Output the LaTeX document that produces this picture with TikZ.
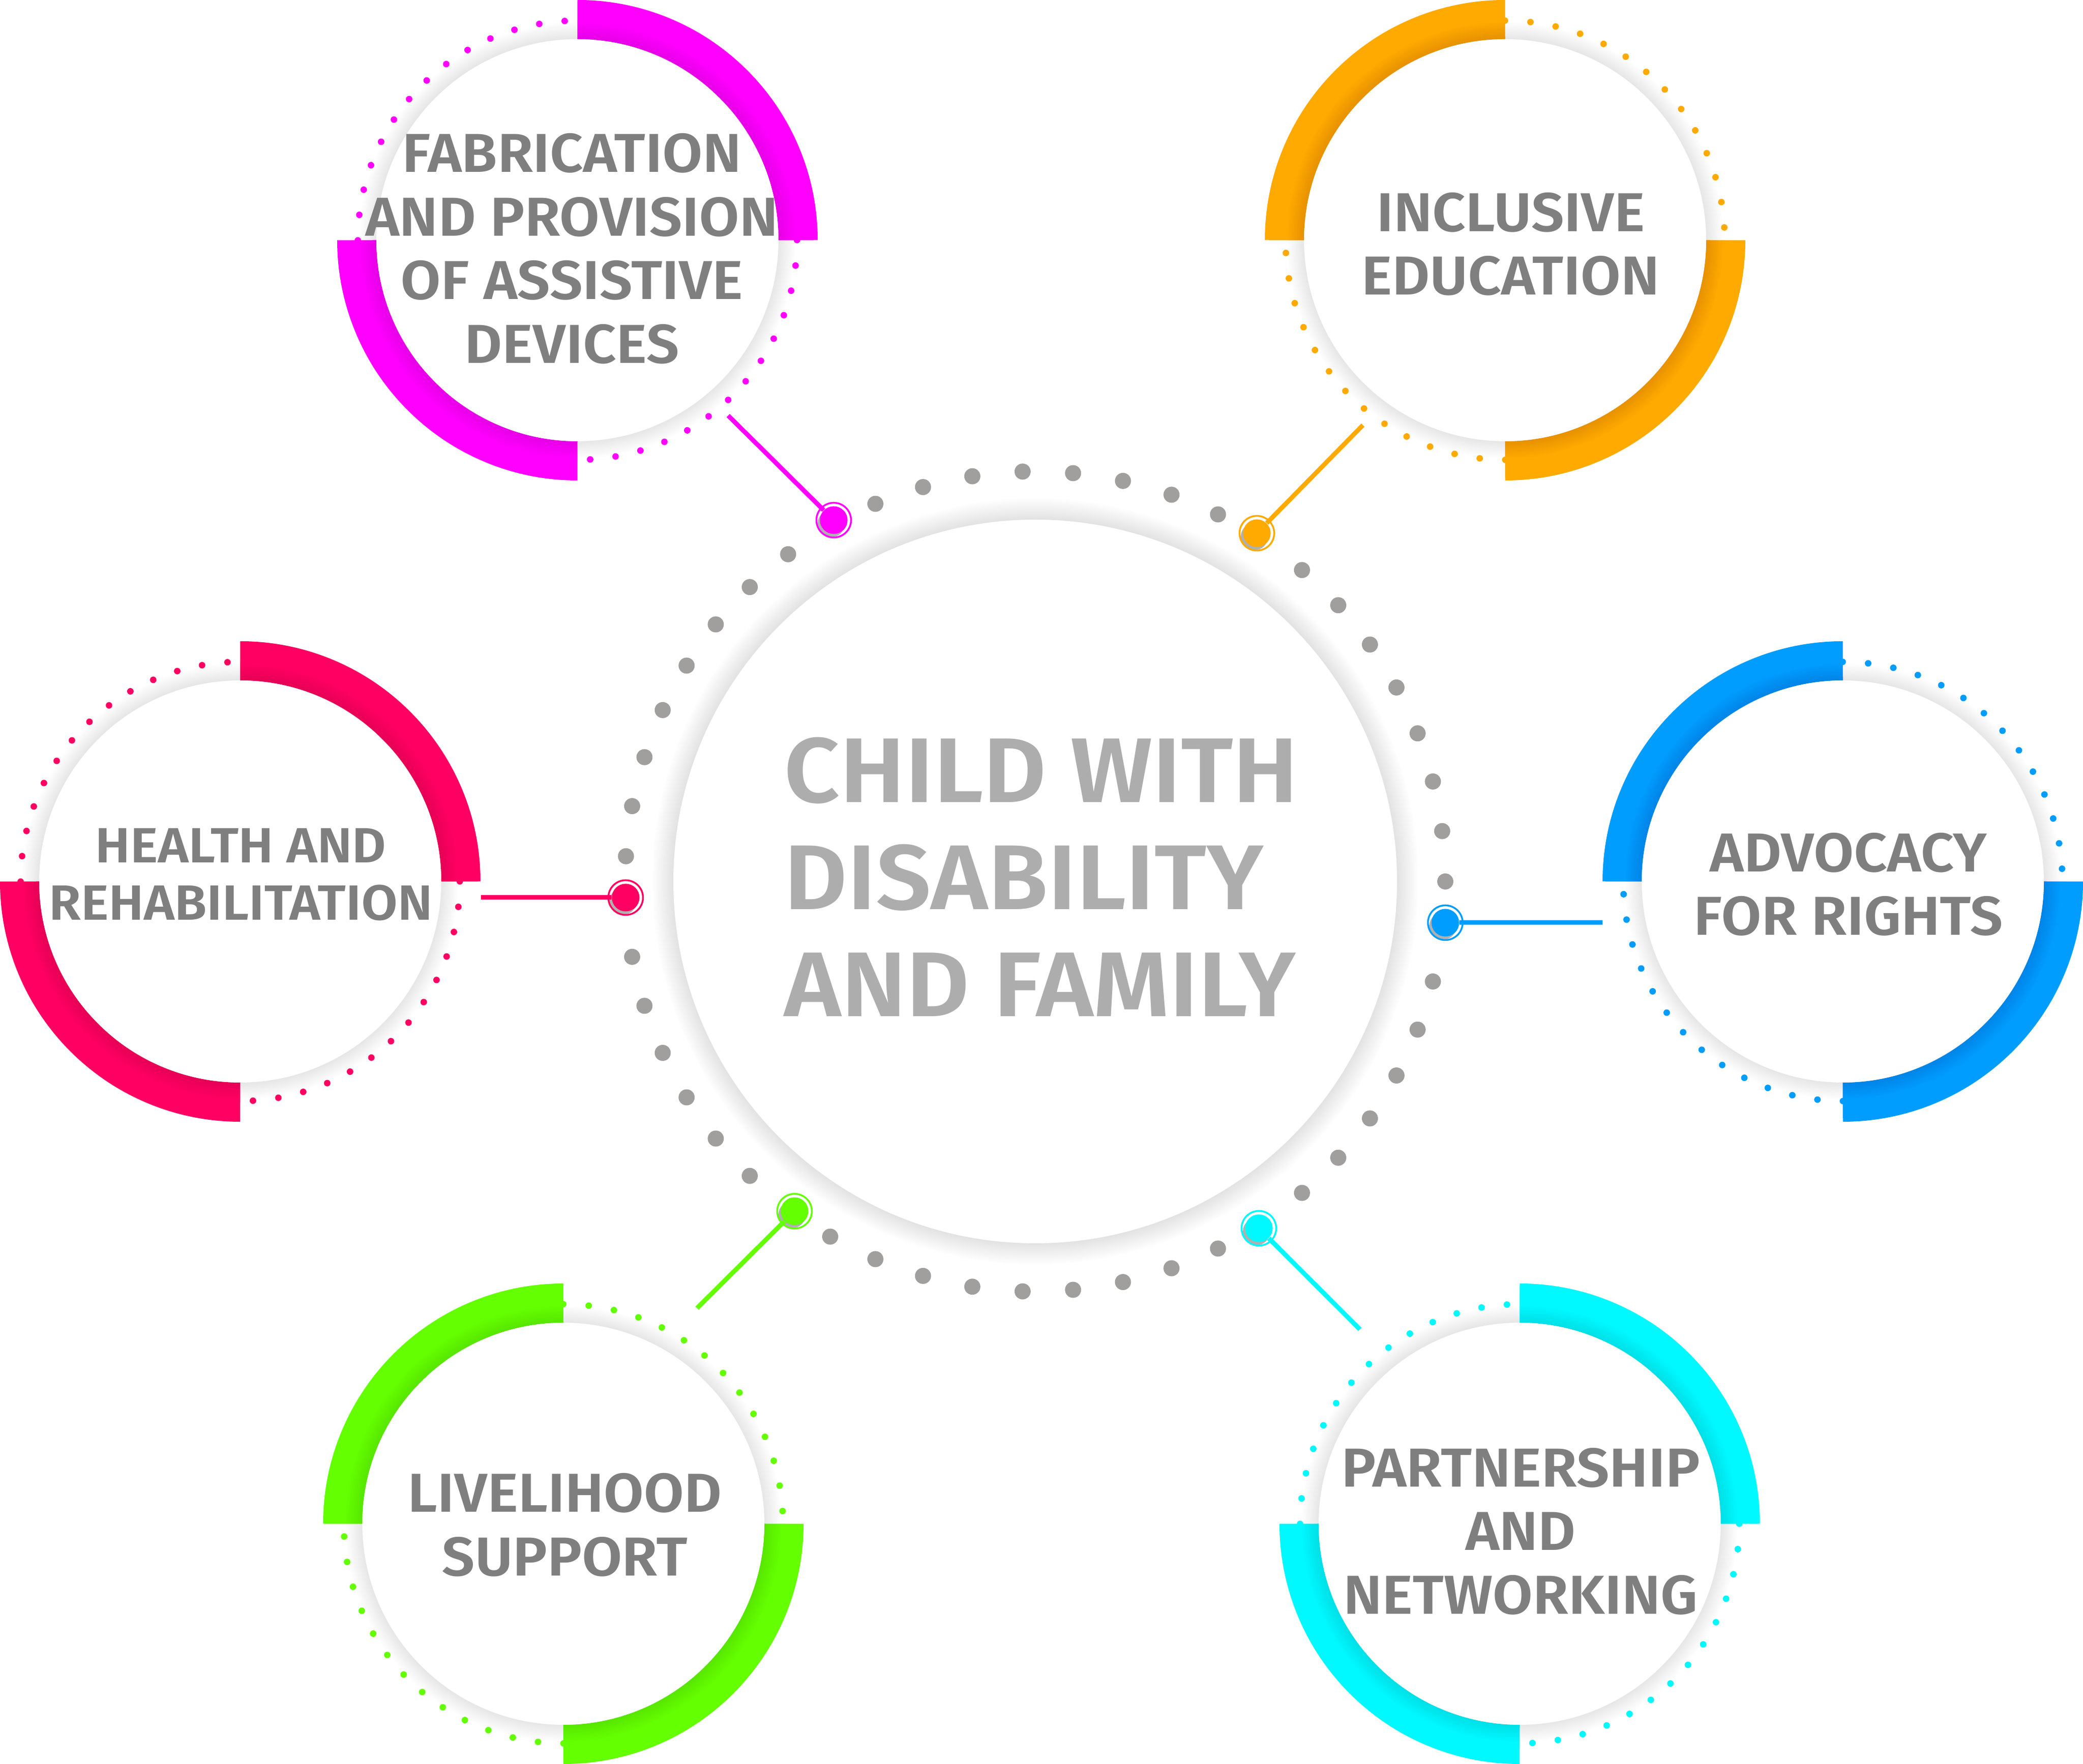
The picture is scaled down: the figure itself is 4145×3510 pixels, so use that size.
\documentclass[tikz,border=0pt]{standalone}
\usepackage{fontspec}
\setmainfont{Fira Sans}[BoldFont={Fira Sans SemiBold}, FakeStretch=1.06]
\definecolor{cMag}{HTML}{FF00FF}
\definecolor{cOra}{HTML}{FFAA00}
\definecolor{cRed}{HTML}{FF0062}
\definecolor{cBlu}{HTML}{009DFF}
\definecolor{cGre}{HTML}{64FF00}
\definecolor{cCya}{HTML}{00F8FF}
\definecolor{dotgray}{HTML}{A19E9E}
\definecolor{ctrtext}{HTML}{ADADAD}
\definecolor{sattext}{HTML}{7F7F7F}
\definecolor{shadowgray}{HTML}{B0B0B0}
\tikzset{
  band/.style={line width=0.78cm},
  conn/.style={line width=0.09cm},
  sattxt/.style={text=sattext, align=center, inner sep=0pt, font={\bfseries\fontsize{31}{36}\selectfont}},
  sattxtsmall/.style={text=sattext, align=center, inner sep=0pt, font={\bfseries\fontsize{28}{32.4}\selectfont}},
  ctrtxt/.style={text=ctrtext, align=left, inner sep=0pt, font={\bfseries\fontsize{52}{60.6}\selectfont}},
  markerfill/.style={circle, fill=#1, minimum size=0.55cm, inner sep=0pt},
}
\newcommand\drawsat[5]{%
  \coordinate (#1) at (#2,#3);
  \begin{scope}[shift={(#1)}, rotate=#5]
    \foreach \k in {0,...,13}{
      \fill[#4] ({93.33+6.67*\k}:437) circle (6.5);
      \fill[#4] ({273.33+6.67*\k}:437) circle (6.5);
    }
    \draw[band,#4] (0:439) arc[start angle=0,end angle=90,radius=439];
    \draw[band,#4] (180:439) arc[start angle=180,end angle=270,radius=439];
    \foreach \i in {1,...,12}{\fill[black,opacity=0.009] (0,0) circle ({400+2.8*\i});}
    \fill[white] (0,0) circle (400);
  \end{scope}
}
\newcommand\drawmarker[4]{%
  \fill[shadowgray] (#2-5,#3-7) circle (27);
  \node[markerfill=#4] (#1) at (#2,#3) {};
  \draw[#4, line width=0.035cm] (#1.center) circle (34.5);
}
\begin{document}
\begin{tikzpicture}[x=0.01cm,y=0.01cm]
\useasboundingbox (0,0) rectangle (4145,3510);
\fill[white] (0,0) rectangle (4145,3510);

% satellites
\drawsat{sM}{1149}{3032}{cMag}{0}
\drawsat{sO}{2995}{3032}{cOra}{90}
\drawsat{sR}{478}{1756}{cRed}{0}
\drawsat{sB}{3667}{1756}{cBlu}{90}
\drawsat{sG}{1121}{478}{cGre}{90}
\drawsat{sC}{3024}{478}{cCya}{0}

% central circle
\coordinate (C0) at (2060,1756);
\foreach \i in {1,...,14}{\fill[black,opacity=0.009] (C0) circle ({720+3*\i});}
\fill[white] (C0) circle (720);
\foreach \k in {0,1,2,3,4,5,6,7,9,10,11,12,13,14,15,16,18,19,20,21,22,23,24,25,27,28,29,30,31,32,34,35,36,37,38,39,40,41,42,44,45,46,47,48,49}{
  \fill[dotgray] (C0) ++({\k*7.0588}:816) circle (16);
}

% markers
\drawmarker{mM}{1659}{2475}{cMag}
\drawmarker{mO}{2501}{2449}{cOra}
\drawmarker{mR}{1245}{1724}{cRed}
\drawmarker{mB}{2876}{1674}{cBlu}
\drawmarker{mG}{1581}{1100}{cGre}
\drawmarker{mC}{2505}{1066}{cCya}

% connector ends
\coordinate (eM) at (1449,2683);
\coordinate (eO) at (2712,2664);
\coordinate (eR) at (957,1724);
\coordinate (eB) at (3189,1674);
\coordinate (eG) at (1387,907);
\coordinate (eC) at (2706,865);

\draw[conn,cMag] (eM) -- (mM);
\draw[conn,cOra] (eO) -- (mO);
\draw[conn,cRed] (eR) -- (mR);
\draw[conn,cBlu] (eB) -- (mB);
\draw[conn,cGre] (eG) -- (mG);
\draw[conn,cCya] (eC) -- (mC);

% texts
\node[sattxt] (tM) at (1138,3015) {FABRICATION\\AND PROVISION\\OF ASSISTIVE\\DEVICES};
\node[sattxt] (tO) at (3006,3024) {INCLUSIVE\\EDUCATION};
\node[sattxtsmall] (tR) at (479,1770) {HEALTH AND\\REHABILITATION};
\node[sattxt] (tB) at (3678,1750) {ADVOCACY\\FOR RIGHTS};
\node[sattxt] (tG) at (1124,476) {LIVELIHOOD\\SUPPORT};
\node[sattxt] (tC) at (3026,463) {PARTNERSHIP\\AND\\NETWORKING};
\node[ctrtxt, anchor=west] (tCtr) at (1560,1765) {CHILD WITH\\DISABILITY\\AND FAMILY};
\end{tikzpicture}
\end{document}
